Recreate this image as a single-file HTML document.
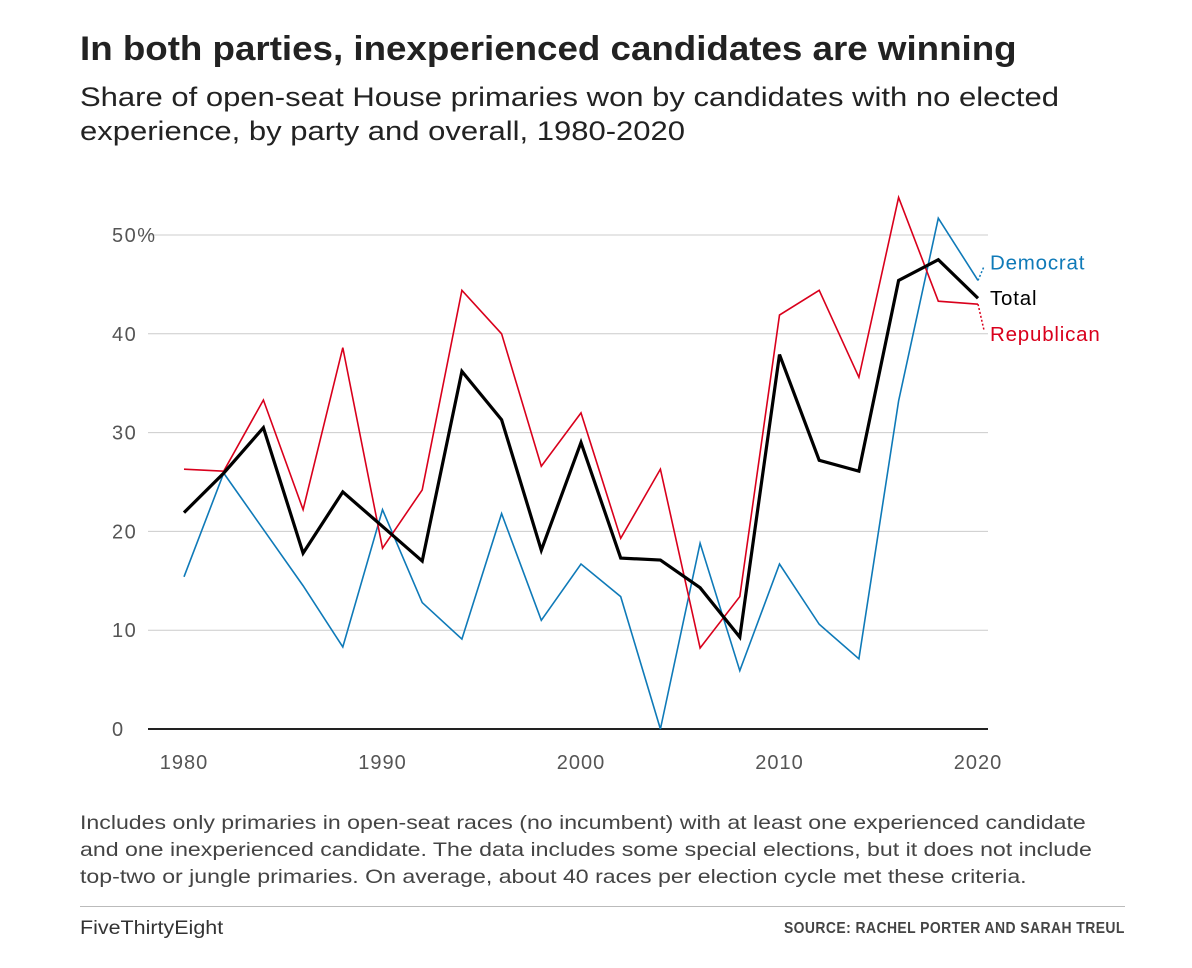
<!DOCTYPE html>
<html><head><meta charset="utf-8">
<style>
body{margin:0;background:#fff;width:1192px;height:968px;overflow:hidden;font-family:"Liberation Sans",sans-serif;position:relative}
.t{position:absolute;left:80px;white-space:nowrap;transform-origin:left top}
</style></head><body>
<div class="t" style="top:30px;font-size:34px;font-weight:bold;color:#222;transform:scaleX(1.08)">In both parties, inexperienced candidates are winning</div>
<div class="t" style="top:80px;font-size:26.5px;line-height:34px;color:#222;transform:scaleX(1.17)">Share of open-seat House primaries won by candidates with no elected<br>experience, by party and overall, 1980-2020</div>
<svg id="chart" width="1192" height="968" style="position:absolute;left:0;top:0"></svg>
<div class="t" style="top:810px;font-size:19.5px;line-height:27px;color:#444;transform:scaleX(1.185)">Includes only primaries in open-seat races (no incumbent) with at least one experienced candidate<br>and one inexperienced candidate. The data includes some special elections, but it does not include<br>top-two or jungle primaries. On average, about 40 races per election cycle met these criteria.</div>
<div style="position:absolute;left:80px;top:906px;width:1045px;height:1px;background:#bbb"></div>
<div class="t" style="top:918px;font-size:19px;color:#333;transform:scaleX(1.13)">FiveThirtyEight</div>
<div style="position:absolute;right:67px;top:920px;font-size:16px;font-weight:bold;color:#444;letter-spacing:0.5px;transform:scaleX(0.87);transform-origin:right">SOURCE: RACHEL PORTER AND SARAH TREUL</div>
<script>
const years=[1980,1982,1984,1986,1988,1990,1992,1994,1996,1998,2000,2002,2004,2006,2008,2010,2012,2014,2016,2018,2020];
const democrat=[15.4,25.9,20.2,14.5,8.3,22.2,12.8,9.1,21.8,11.0,16.7,13.4,0,18.8,5.9,16.7,10.6,7.1,33.2,51.7,45.4];
const republican=[26.3,26.1,33.3,22.2,38.6,18.3,24.2,44.4,40.0,26.6,32.0,19.3,26.3,8.2,13.4,41.9,44.4,35.6,53.8,43.3,43.0];
const total=[21.9,25.9,30.5,17.8,24.0,20.5,17.0,36.2,31.3,18.1,29.0,17.3,17.1,14.3,9.3,37.9,27.2,26.1,45.4,47.5,43.6];
const yTicks=[0,10,20,30,40,50];
const yTickLabels=["0","10","20","30","40","50%"];
const xTicks=[1980,1990,2000,2010,2020];
const svg=document.getElementById('chart');const NS='http://www.w3.org/2000/svg';
const X=v=>184+(v-1980)*19.85;
const Y=v=>729-v*9.88;
function el(t,a){const e=document.createElementNS(NS,t);for(const k in a)e.setAttribute(k,a[k]);svg.appendChild(e);return e;}
yTicks.forEach((v,i)=>{
const g=el('line',{x1:148,x2:988,y1:Y(v),y2:Y(v),stroke:v===0?'#222':'#ccc','stroke-width':v===0?2:1});


const t=el('text',{x:112,y:Y(v)+7,'font-size':20,fill:'#555','letter-spacing':1.5,'text-anchor':'start'});
t.textContent=yTickLabels[i];


});
xTicks.forEach(v=>{
const t=el('text',{x:X(v),y:769,'font-size':20,fill:'#555','letter-spacing':1,'text-anchor':'middle'});
t.textContent=v;


});
function line(vals,color,w,name){
const p=el('polyline',{points:vals.map((v,i)=>X(years[i])+','+Y(v)).join(' '),fill:'none',stroke:color,'stroke-width':w,'stroke-linejoin':'miter'});


}
line(democrat,'#0f7ab8',1.6,'democrat-line');
line(republican,'#d9001c',1.6,'republican-line');
line(total,'#000',3.2,'total-line');
const last=years.length-1;
function lab(vals,txt,color,dy,name){
const y0=Y(vals[last]);const ly=y0+dy;
if(Math.abs(dy)>6){const d=el('line',{x1:X(years[last]),y1:y0,x2:X(years[last])+6,y2:ly+(dy<0?4:-4),stroke:color,'stroke-width':1.5,'stroke-dasharray':'2,2'});

}
const t=el('text',{x:990,y:ly+7,'font-size':20.5,'letter-spacing':0.8,fill:color});
t.textContent=txt;


}
lab(democrat,'Democrat','#0f7ab8',-18,'legend-democrat');
lab(total,'Total','#000',0,'legend-total');
lab(republican,'Republican','#d9001c',30,'legend-republican');
</script>
</body></html>
